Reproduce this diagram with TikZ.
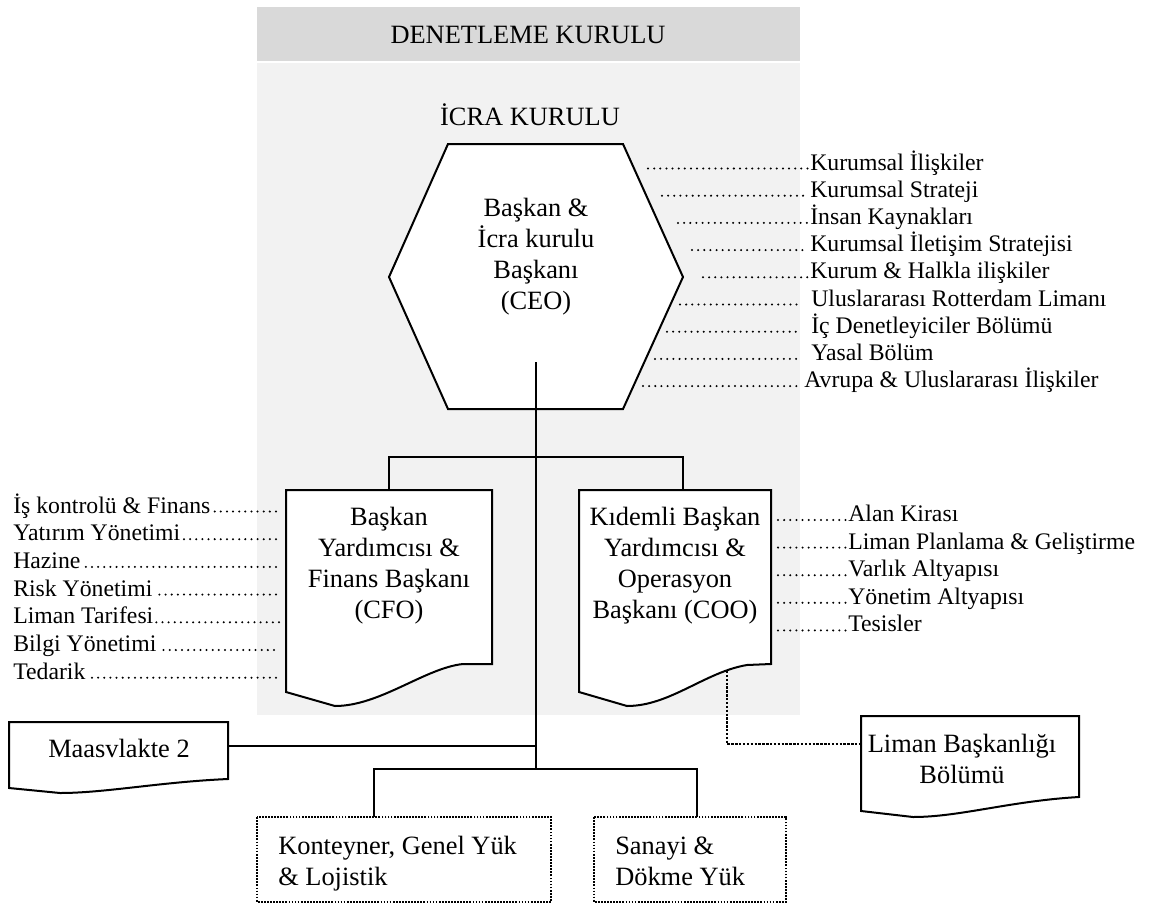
\documentclass[tikz,border=0pt]{standalone}
\usepackage{fontspec}
\setmainfont{Liberation Serif}
\definecolor{bandgray}{HTML}{D9D9D9}
\definecolor{panelgray}{HTML}{F2F2F2}
\begin{document}
\begin{tikzpicture}[x=0.75pt,y=-0.75pt,
  bigtext/.style={font=\fontsize{19.8}{23.25}\selectfont, inner sep=0pt},
  listtext/.style={font=\fontsize{17.8}{20.5}\selectfont, inner sep=0pt, anchor=base west},
  outline/.style={draw=black, line width=1.5pt, fill=white, line join=miter},
  link/.style={draw=black, line width=1.6pt},
  thinlink/.style={draw=black, line width=1.3pt},
  heavylink/.style={draw=black, line width=2.1pt},
  leader/.style={draw=black, line width=1.7pt, line cap=round, dash pattern=on 0pt off 4.6pt},
  dotbox/.style={draw=black, line width=1.4pt, dash pattern=on 1.3pt off 1.0pt},
  dotlink/.style={draw=black, line width=2.1pt, dash pattern=on 1.8pt off 1.1pt},
]
\useasboundingbox (0,0) rectangle (1150,904);

% supervisory band and executive panel
\fill[bandgray] (257,7) rectangle (800,61);
\fill[panelgray] (257,63) rectangle (800,715);
\node[bigtext, anchor=base] (board) at (528,43.5) {DENETLEME KURULU};
\node[bigtext, anchor=base] (exec) at (530,125.5) {İCRA KURULU};

% CEO hexagon
\draw[outline] (448,144) -- (623,144) -- (683,277) -- (623,409) -- (448,409) -- (389,277) -- cycle;
\node[bigtext, align=center] (ceo) at (536,256.2) {Başkan \&\\İcra kurulu\\Başkanı\\(CEO)};

% trunk from the CEO down to the business units
\coordinate (stem) at (536,362);
\coordinate (hub) at (536,769);
\draw[link] (stem) -- (hub);

% CFO document
\draw[outline] (286,490) -- (492,490) -- (492,664) -- (463,664)
  .. controls (425,668) and (380,706) .. (335,706) -- (286,692) -- cycle;
\coordinate (cfo-top) at (389,490);
\node[bigtext, align=center] (cfo) at (389,566) {Başkan\\Yardımcısı \&\\Finans Başkanı\\(CFO)};

% COO document
\draw[outline] (579,490) -- (771,490) -- (771,664) -- (747,665)
  .. controls (705,672) and (670,706) .. (627,706) -- (579,692) -- cycle;
\coordinate (coo-top) at (683,490);
\node[bigtext, align=center] (coo) at (675,566) {Kıdemli Başkan\\Yardımcısı \&\\Operasyon\\Başkanı (COO)};

\coordinate (branch) at (536,457);
\draw[link] (cfo-top) |- (branch) -| (coo-top);

% Maasvlakte 2
\draw[outline] (9,722) -- (228,722) -- (228,779)
  .. controls (160,782) and (105,793) .. (60,793) -- (9,788) -- cycle;
\node[bigtext, anchor=base] (maas) at (119,757.7) {Maasvlakte 2};
\coordinate (maas-e) at (228,746);
\draw[thinlink] (maas-e) -- (maas-e -| hub);

% business units
\coordinate (kont-top) at (374,817);
\coordinate (san-top) at (697,817);
\draw[heavylink] (kont-top) |- (hub) -| (san-top);
\draw[dotbox] (257,817) rectangle (551,902);
\node[bigtext, align=left, anchor=west] (kont) at (278,863.8) {Konteyner, Genel Yük\\\& Lojistik};
\draw[dotbox] (594,817) rectangle (786,902);
\node[bigtext, align=left, anchor=west] (sanayi) at (615,861) {Sanayi \&\\Dökme Yük};

% harbour master
\draw[outline] (861,716) -- (1079,716) -- (1079,797)
  .. controls (1010,801) and (960,817) .. (913,817) -- (861,811) -- cycle;
\node[bigtext, align=center] (liman) at (962,759) {Liman Başkanlığı\\Bölümü};
\coordinate (coo-tail) at (727,671);
\coordinate (liman-w) at (861,744);
\draw[dotlink] (coo-tail) |- (liman-w);

% staff departments of the CEO
\foreach \sx/\ex/\tx/\txt [count=\i] in {
  648/808/810/Kurumsal İlişkiler,
  662/808/810/Kurumsal Strateji,
  678/808/810/İnsan Kaynakları,
  692/808/810/Kurumsal İletişim Stratejisi,
  703/808/810/Kurum \& Halkla ilişkiler,
  680/797/811/Uluslararası Rotterdam Limanı,
  667/797/811/İç Denetleyiciler Bölümü,
  655/797/811/Yasal Bölüm,
  643/802/804/Avrupa \& Uluslararası İlişkiler}{
  \pgfmathsetmacro\b{170+27.2*(\i-1)}
  \node[listtext] (r\i) at (\tx,\b) {\txt};
  \coordinate (r\i-lead) at (\sx,\b-1.5);
  \coordinate (r\i-stop) at (\ex,\b-1.5);
  \draw[leader] (r\i-lead) -- (r\i-stop);
}

% departments under the COO
\foreach \txt [count=\i] in {
  Alan Kirası,
  Liman Planlama \& Geliştirme,
  Varlık Altyapısı,
  Yönetim Altyapısı,
  Tesisler}{
  \pgfmathsetmacro\b{521.5+27.6*(\i-1)}
  \node[listtext] (c\i) at (848,\b) {\txt};
  \coordinate (c\i-lead) at (778,\b-1.5);
  \draw[leader] (c\i-lead) -- (c\i-lead -| c\i.west);
}

% departments under the CFO
\foreach \ex/\txt [count=\i] in {
  276/İş kontrolü \& Finans,
  276/Yatırım Yönetimi,
  276/Hazine,
  276/Risk Yönetimi,
  279/Liman Tarifesi,
  274/Bilgi Yönetimi,
  276/Tedarik}{
  \pgfmathsetmacro\b{513+27.7*(\i-1)}
  \node[listtext] (f\i) at (13,\b) {\txt};
  \coordinate (f\i-stop) at (\ex,\b-1.5);
  \draw[leader, shorten >=1.5pt] (f\i-stop) -- (f\i.east |- f\i-stop);
}
\end{tikzpicture}
\end{document}
